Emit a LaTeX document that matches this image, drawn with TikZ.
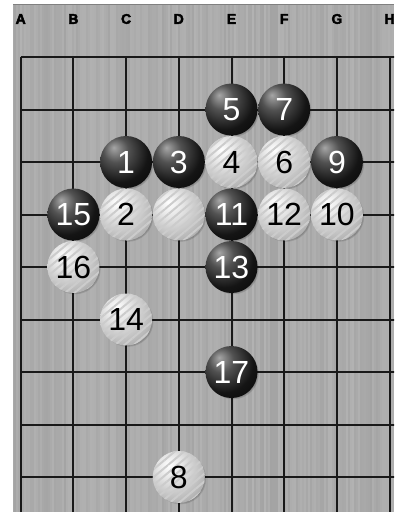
\documentclass[tikz,border=0pt]{standalone}
\usepackage{fontspec}
\setmainfont{Liberation Sans}
\newfontfamily\colfont[FakeBold=3]{Liberation Sans Bold}
\usetikzlibrary{shadows,patterns.meta}

\pgfdeclareradialshading{blackball}{\pgfpoint{-12bp}{14bp}}{color(0bp)=(black!35);color(12bp)=(black!68);color(28bp)=(black!92);color(50bp)=(black);color(70bp)=(black!85)}
\pgfdeclareradialshading{whiteball}{\pgfpoint{-10bp}{12bp}}{color(0bp)=(white);color(12bp)=(black!10);color(30bp)=(black!28);color(46bp)=(black!48);color(70bp)=(black!62)}
\definecolor{boardgray}{HTML}{A9A9A9}

\tikzset{
  stone/.style={circle,minimum size=52pt,inner sep=0pt,font=\fontsize{32}{32}\selectfont,circular drop shadow={shadow scale=1,shadow xshift=1.5pt,shadow yshift=-1.5pt,opacity=0.35,fill=black}},
  blackstone/.style={stone,shading=blackball,text=white},
  whitestone/.style={stone,shading=whiteball,text=black,postaction={pattern={Lines[angle=40,distance=6pt,line width=2pt]},pattern color=black!20}},
  collabel/.style={font=\colfont\fontsize{14}{14}\selectfont,text=black,inner sep=0pt},
  gridline/.style={draw=black!90,line width=2pt}
}

\begin{document}
\begin{tikzpicture}[x=52.7pt,y=-52.5pt]
\useasboundingbox[fill=white] (-0.3928,-1.0857) rectangle (7.2733,8.6667);
\begin{scope}
\clip (-0.146,-1.0095) rectangle (7.084,8.6667);
\fill[boardgray] (-0.146,-1.0095) rectangle (7.084,8.6667);
\pgfmathsetseed{11}
\foreach \i in {0,...,190}{
  \pgfmathsetmacro\shade{30+6*rnd}
  \draw[black!\shade,line width=2pt] (-0.146+0.038*\i,-1.0095) -- ++(0,9.7);
}
\draw[black!50,line width=1.5pt] (-0.146,-1.0095) -- (7.084,-1.0095);
\foreach \c [count=\i from 0] in {A,B,C,D,E,F,G,H}
  \node[collabel] (col\c) at (\i,-0.724) {\c};
\foreach \i in {0,...,7}
  \draw[gridline] (\i,0) -- (\i,8.7);
\foreach \j in {0,...,8}
  \draw[gridline] (0,\j) -- (7.2,\j);

\node[blackstone] (mv5) at (4,1) {5};
\node[blackstone] (mv7) at (5,1) {7};
\node[blackstone] (mv1) at (2,2) {1};
\node[blackstone] (mv3) at (3,2) {3};
\node[whitestone] (mv4) at (4,2) {4};
\node[whitestone] (mv6) at (5,2) {6};
\node[blackstone] (mv9) at (6,2) {9};
\node[blackstone] (mv15) at (1,3) {15};
\node[whitestone] (mv2) at (2,3) {2};
\node[whitestone] (prior) at (3,3) {};
\node[blackstone] (mv11) at (4,3) {11};
\node[whitestone] (mv12) at (5,3) {12};
\node[whitestone] (mv10) at (6,3) {10};
\node[whitestone] (mv16) at (1,4) {16};
\node[blackstone] (mv13) at (4,4) {13};
\node[whitestone] (mv14) at (2,5) {14};
\node[blackstone] (mv17) at (4,6) {17};
\node[whitestone] (mv8) at (3,8) {8};
\end{scope}
\end{tikzpicture}
\end{document}
